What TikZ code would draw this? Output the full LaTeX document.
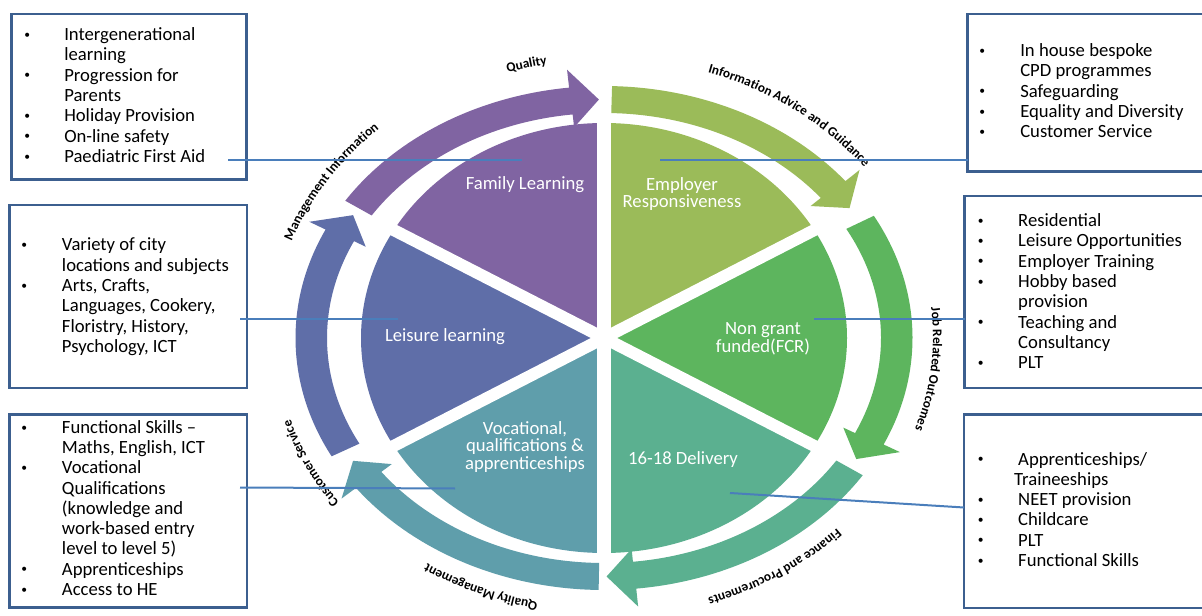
\documentclass[tikz,border=0pt]{standalone}
\usepackage{fontspec}
\usepackage{graphicx}
\setmainfont{Carlito}
\usetikzlibrary{decorations.text}
\definecolor{famc}{HTML}{8064A2}
\definecolor{empc}{HTML}{9BBB59}
\definecolor{ngfc}{HTML}{5DB55E}
\definecolor{delc}{HTML}{5BB090}
\definecolor{vocc}{HTML}{5F9EAB}
\definecolor{leic}{HTML}{5F6EA8}
\definecolor{boxc}{HTML}{3C5F8F}
\definecolor{linec}{HTML}{4A7EBB}
\newlength\bw
\newcommand\bu{\makebox[0pt]{\raisebox{0.12em}{\scalebox{0.62}{\textbullet}}}\hspace*{\bw}}
\newcommand\ct{\hspace*{\bw}}
\newcommand\arcfont{\bfseries\fontsize{10}{12}\selectfont}
% sector: colour, start, end
\newcommand\sector[3]{\fill[#1] (0,0) -- (#2:243 and 215) arc[start angle=#2, end angle=#3, x radius=243, y radius=215] -- cycle;}
% ring arrow: colour, tail, head base, tip
\newcommand\warrow[4]{\fill[#1] (#2:308.5 and 252) arc[start angle=#2, end angle=#3, x radius=308.5, y radius=252]
  -- (#3:326.5 and 270) -- (#4:292.75 and 238.5) -- (#3:264 and 212) -- (#3:277 and 225)
  arc[start angle=#3, end angle=#2, x radius=277, y radius=225] -- cycle;}
% curved label: rx, ry, mid angle, text
\newcommand\arclabel[4]{\path[decorate, decoration={text along path, text align=center, text={|\arcfont|#4}}]
  (#3+42:#1 and #2) arc[start angle=#3+42, end angle=#3-42, x radius=#1, y radius=#2];}
\begin{document}
\begin{tikzpicture}[x=0.75pt,y=-0.75pt,
  infobox/.style={draw=boxc, line width=2pt, inner sep=0pt, outer sep=0pt},
  boxtxt/.style={anchor=base west, inner sep=0pt, font=\fontsize{14}{15.2}\selectfont, text=black},
  seclab/.style={text=white, align=center, font=\fontsize{14}{13.2}\selectfont, inner sep=0pt},
  link/.style={draw=linec, line width=1.5pt},
]
\useasboundingbox (0,0) rectangle (1202,616);
\fill[white] (0,0) rectangle (1202,616);

% ---------- wheel ----------
\begin{scope}[shift={(604,338)}, y=0.75pt]
  \sector{empc}{30}{90}
  \sector{famc}{90}{150}
  \sector{leic}{150}{210}
  \sector{vocc}{210}{270}
  \sector{delc}{270}{330}
  \sector{ngfc}{-30}{30}
  \draw[white, line width=10.5pt] (90:250 and 225) -- (-90:250 and 225);
  \draw[white, line width=9pt] (30:252 and 224) -- (210:252 and 224);
  \draw[white, line width=9pt] (150:252 and 224) -- (-30:252 and 224);
  \warrow{famc}{147}{96.5}{91}
  \warrow{empc}{88.5}{38.5}{33}
  \warrow{ngfc}{29}{-25}{-30.5}
  \warrow{delc}{-33}{-84}{-89.5}
  \warrow{vocc}{-91}{-143.5}{-149}
  \warrow{leic}{-152}{-205.5}{-211}
  \arclabel{326}{278}{104.5}{Quality}
  \arclabel{328}{280}{53}{Information Advice and Guidance}
  \arclabel{329}{278}{-6}{Job Related Outcomes}
  \arclabel{324}{274}{-56}{Finance and Procurements}
  \arclabel{322}{270}{-114}{Quality Management}
  \arclabel{328}{278}{-155}{Customer Service}
  \arclabel{332}{284}{148}{Management Information}
\end{scope}

% ---------- sector labels ----------
\node[seclab] (fam) at (525,185) {Family Learning};
\node[seclab] (emp) at (682,194) {Employer\\Responsiveness};
\node[seclab] (lei) at (445,337) {Leisure learning};
\node[seclab] (ngf) at (763,339) {Non grant\\funded(FCR)};
\node[seclab] (voc) at (525,447) {Vocational,\\qualifications \&\\apprenticeships};
\node[seclab] (del) at (683,460) {16-18 Delivery};

% ---------- boxes ----------
\node[infobox, minimum width=176.25pt, minimum height=124.125pt] (b1) at (129,96.75) {};
\node[infobox, minimum width=178.125pt, minimum height=137.25pt] (b2) at (128.25,296.5) {};
\node[infobox, minimum width=178.125pt, minimum height=144.75pt] (b3) at (128.25,511) {};
\node[infobox, minimum width=183.375pt, minimum height=118.125pt] (b4) at (1089.75,92.75) {};
\node[infobox, minimum width=185.625pt, minimum height=144pt] (b5) at (1088.25,292) {};
\node[infobox, minimum width=186pt, minimum height=145.125pt] (b6) at (1088,511.25) {};

\node[boxtxt] (t1) at (27,40.7) {\setlength\bw{27.75pt}\begin{tabular}[t]{@{}l@{}}
\bu Intergenerational\\ \ct learning\\ \bu Progression for\\ \ct Parents\\ \bu Holiday Provision\\ \bu On-line safety\\ \bu Paediatric First Aid\end{tabular}};
\node[boxtxt] (t2) at (24,251) {\setlength\bw{28.3pt}\begin{tabular}[t]{@{}l@{}}
\bu Variety of city\\ \ct locations and subjects\\ \bu Arts, Crafts,\\ \ct Languages, Cookery,\\ \ct Floristry, History,\\ \ct Psychology, ICT\end{tabular}};
\node[boxtxt] (t3) at (24,433.3) {\setlength\bw{28.3pt}\begin{tabular}[t]{@{}l@{}}
\bu Functional Skills --\\ \ct Maths, English, ICT\\ \bu Vocational\\ \ct Qualifications\\ \ct (knowledge and\\ \ct work-based entry\\ \ct level to level 5)\\ \bu Apprenticeships\\ \bu Access to HE\end{tabular}};
\node[boxtxt] (t4) at (982,56.7) {\setlength\bw{28.5pt}\begin{tabular}[t]{@{}l@{}}
\bu In house bespoke\\ \ct CPD programmes\\ \bu Safeguarding\\ \bu Equality and Diversity\\ \bu Customer Service\end{tabular}};
\node[boxtxt] (t5) at (980.5,226.7) {\setlength\bw{28.1pt}\begin{tabular}[t]{@{}l@{}}
\bu Residential\\ \bu Leisure Opportunities\\ \bu Employer Training\\ \bu Hobby based\\ \ct provision\\ \bu Teaching and\\ \ct Consultancy\\ \bu PLT\end{tabular}};
\node[boxtxt] (t6) at (980.5,465) {\setlength\bw{28.1pt}\begin{tabular}[t]{@{}l@{}}
\bu Apprenticeships/\\ \hspace*{25.1pt}Traineeships\\ \bu NEET provision\\ \bu Childcare\\ \bu PLT\\ \bu Functional Skills\end{tabular}};

% ---------- connectors ----------
\coordinate (s1) at (228,160.5); \coordinate (p1) at (522,160.5);
\coordinate (s2) at (240,319.5); \coordinate (p2) at (398,319.5);
\coordinate (s3) at (240,487.5); \coordinate (p3) at (455,488.5);
\coordinate (p4) at (660,160.5);
\coordinate (p5) at (814,319);
\coordinate (p6) at (730,493); \coordinate (s6) at (964,507.5);
\draw[link] (s1) -- (p1);
\draw[link] (s2) -- (p2);
\draw[link] (s3) -- (p3);
\draw[link] (p4) -- (p4 -| b4.west);
\draw[link] (p5) -- (p5 -| b5.west);
\draw[link] (p6) -- (s6);
\end{tikzpicture}
\end{document}
